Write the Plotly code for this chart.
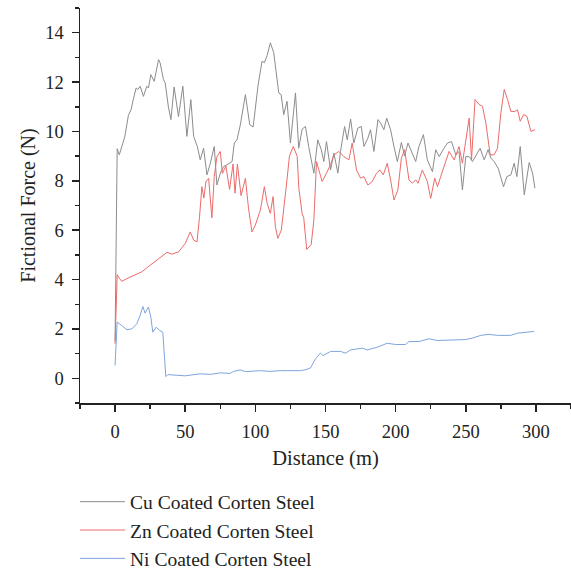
import plotly.graph_objects as go

# ---- data ----
series_names = ["Cu Coated Corten Steel", "Zn Coated Corten Steel", "Ni Coated Corten Steel"]

cu_x = [0, 1.5, 3, 5, 7, 9.5, 11.5, 13, 15, 16.2, 17.9, 20.2, 22.6, 23.8, 25.5, 27.9, 31, 32.1, 34.5, 35.7,
        38, 39.8, 42.1, 45.2, 48.3, 51.2, 54, 56, 58.6, 60.7, 63.1, 65.5, 67.9, 70.7, 72.6, 75, 77.4, 79.8,
        83.4, 85, 86.9, 89.3, 92.9, 96, 98.4, 102, 104.8, 106.4, 108.4, 110.7, 113.1, 116.7, 118.4, 120.2,
        122.6, 125, 128.6, 130.9, 133.4, 135.7, 138, 141.7, 144.5, 147, 148.8, 150.7, 153.6, 156, 158.8,
        160.7, 163.6, 165.5, 167.9, 170.2, 173.1, 175.5, 177.4, 180.2, 182.1, 184.5, 187.4, 189.3, 191.6,
        193.6, 196.4, 198.8, 201.2, 204.1, 206.4, 208.8, 211.2, 214.3, 216.6, 219.8, 222.6, 226.2, 228.6,
        231, 234.5, 236.9, 239.8, 242.9, 245.2, 247.6, 250, 252.4, 254.8, 258.3, 260.2, 263.1, 265.9, 267.9,
        270.2, 273.1, 276.9, 279.3, 282.1, 284.5, 286.4, 288.8, 291.7, 295.2, 297.6, 299.3]
cu_y = [1.5, 9.3, 9.05, 9.4, 9.8, 10.65, 10.9, 11.3, 11.76, 11.7, 11.83, 11.42, 11.83, 11.76, 12.3, 12.03, 12.91, 12.78, 12.1, 11.97,
        11.0, 10.48, 11.8, 10.6, 11.83, 9.8, 11.29, 9.8, 9.4, 8.85, 9.32, 8.24, 8.71, 9.39, 7.83, 8.31, 8.58, 8.65,
        8.78, 9.53, 9.66, 10.27, 11.49, 10.27, 10.18, 11.9, 12.85, 12.78, 13.08, 13.59, 13.19, 11.56, 11.49, 10.68,
        11.22, 9.53, 11.56, 9.32, 10.1, 10.2, 9.39, 8.31, 9.66, 9.26, 8.78, 9.59, 8.44, 9.12, 8.31,
        9.19, 10.2, 9.66, 10.5, 9.53, 10.14, 10.2, 9.39, 9.73, 10.07, 9.19, 10.48, 10.34, 10.07,
        10.54, 10.07, 9.39, 8.78, 9.55, 9.01, 9.53, 9.19, 8.78, 9.39, 9.87, 8.85, 8.37, 9.26,
        8.98, 9.32, 9.53, 9.59, 9.05, 9.19, 7.63, 8.98, 8.98, 8.78, 9.12, 9.32, 8.85, 9.26, 8.92,
        8.78, 8.51, 7.76, 8.17, 8.24, 8.71, 8.17, 9.39, 7.43, 8.74, 8.31, 7.7]

zn_x = [0, 0.8, 1.5, 2.5, 4.7, 10.7, 19, 25, 31, 37, 40.5, 45.2, 50, 53.6, 56, 58.4, 60.2, 61.9, 63.3, 64.8,
        66.7, 69, 70.7, 72.6, 75, 76.5, 79, 81.6, 84.1, 85.5, 87.2, 89.8, 92.9, 95.2, 97.6, 100, 103.6,
        106.4, 108.4, 110.7, 112.6, 114.3, 116, 118.5, 122, 124.3, 127, 129.8, 131, 133.3, 134.5, 136.6,
        139.8, 141.7, 143.6, 145.2, 147.6, 150.7, 153.6, 156, 159.5, 163.1, 166.7, 169, 172.1, 175, 177.4,
        180.2, 183.3, 186.4, 188.8, 191.2, 194, 196.4, 198.8, 201.6, 204.1, 206.4, 209.5, 211.9, 214.3,
        216, 219, 222.6, 225, 227.9, 229.8, 232.1, 235, 238.1, 241.7, 245.2, 247.6, 250, 252.4, 254.1,
        256.6, 259.5, 261.9, 264.3, 267.4, 270.2, 272.6, 275, 277.4, 279.8, 282.1, 285, 286.9, 288.8,
        291.2, 293.6, 296.4, 299.3]
zn_y = [1.4, 3.0, 4.2, 4.1, 3.93, 4.1, 4.31, 4.58, 4.85, 5.1, 5.03, 5.12, 5.46, 5.93, 5.6, 5.53, 6.54, 7.76, 7.3, 7.97,
        8.1, 6.5, 8.17, 8.98, 9.19, 8.3, 8.6, 7.65, 8.68, 7.5, 8.68, 7.4, 8.1, 6.85, 5.93, 6.21, 6.82,
        7.76, 7.09, 6.68, 7.36, 6.14, 5.67, 6.0, 7.76, 9.0, 9.39, 9.0, 7.7, 6.68, 6.5, 5.22,
        5.42, 6.41, 8.78, 8.44, 7.97, 8.31, 8.65, 9.05, 9.19, 8.98, 8.85, 9.53, 8.44, 8.11, 8.17,
        7.83, 7.97, 8.31, 8.44, 8.24, 8.71, 8.04, 7.22, 7.63, 8.92, 9.26, 8.04, 7.9, 8.04,
        7.9, 8.44, 7.97, 7.29, 8.11, 7.76, 8.17, 8.65, 9.19, 8.85, 9.39, 8.71, 9.66, 10.54, 8.85,
        11.29, 11.09, 11.02, 10.34, 9.05, 9.05, 9.32, 10.75, 11.7, 11.29, 10.81, 10.81, 10.88, 10.41,
        10.68, 10.61, 10.0, 10.07]

ni_x = [0, 1.5, 4.7, 8.4, 11.9, 15.5, 17.9, 19.8, 21.4, 23.8, 25.5, 26.9, 29.3, 31.7, 34, 36.2, 37.6, 44, 50,
        55, 60.7, 67.9, 75, 82, 84.5, 89.3, 93, 103.6, 110, 118, 125, 132, 136, 139.3, 142.9, 146.4, 148.2,
        153.6, 160.7, 164.3, 167.9, 176.2, 179.8, 186.9, 194, 200, 207.1, 209.5, 216.6, 223.8, 229.8, 236.9,
        244, 250, 254.8, 260.7, 266.6, 272.6, 282.1, 286.9, 294, 298.8]
ni_y = [0.52, 2.28, 2.14, 1.97, 2.0, 2.21, 2.55, 2.91, 2.64, 2.89, 2.48, 1.87, 2.07, 1.94, 1.87, 0.07, 0.15, 0.12, 0.1,
        0.14, 0.18, 0.16, 0.22, 0.2, 0.28, 0.34, 0.27, 0.31, 0.28, 0.31, 0.3, 0.31, 0.35, 0.42, 0.79, 1.02, 0.92,
        1.09, 1.09, 1.02, 1.15, 1.22, 1.15, 1.26, 1.42, 1.37, 1.37, 1.49, 1.49, 1.6, 1.53, 1.56,
        1.56, 1.57, 1.63, 1.74, 1.78, 1.74, 1.74, 1.83, 1.87, 1.9]

x_tickvals = [0, 50, 100, 150, 200, 250, 300]
y_tickvals = [0, 2, 4, 6, 8, 10, 12, 14]

colors = ["#8c8c8c", "#ec6b6b", "#7fa5dc"]
FONT = "Liberation Serif"

fig = go.Figure()
for name, xs, ys, c in zip(series_names, [cu_x, zn_x, ni_x], [cu_y, zn_y, ni_y], colors):
    fig.add_trace(go.Scatter(x=xs, y=ys, mode="lines", name=name,
                             line=dict(color=c, width=1)))

axis_common = dict(
    showgrid=False, zeroline=False, showline=True, linecolor="#222", linewidth=1.5,
    ticks="outside", tickcolor="#222", tickwidth=1.5, ticklen=7,
    tickfont=dict(family=FONT, size=18.5, color="#222"),
)

fig.update_layout(
    width=571, height=569,
    margin=dict(l=80, r=0, t=8, b=166, autoexpand=False),
    paper_bgcolor="white", plot_bgcolor="white",
    font=dict(family=FONT, color="#222"),
    xaxis=dict(range=[-25, 325], tickvals=x_tickvals,
               minor=dict(dtick=25, tick0=0, ticks="outside", ticklen=4, tickcolor="#222", tickwidth=1.5),
               title=dict(text="Distance (m)", font=dict(family=FONT, size=20.5, color="#222"), standoff=10),
               ticklabelstandoff=4,
               **axis_common),
    yaxis=dict(range=[-1, 15], tickvals=y_tickvals,
               minor=dict(dtick=1, tick0=0, ticks="outside", ticklen=4, tickcolor="#222", tickwidth=1.5),
               title=dict(text="Fictional Force (N)", font=dict(family=FONT, size=20, color="#222"), standoff=4),
               ticklabelstandoff=4,
               **axis_common),
    showlegend=True,
    legend=dict(x=-5/491, xanchor="left", y=-(482.5-403)/395, yanchor="top",
                orientation="v", itemwidth=45, tracegroupgap=0,
                font=dict(family=FONT, size=19.5, color="#222"),
                bgcolor="rgba(0,0,0,0)"),
)

fig.write_html("out.html", config={"staticPlot": True})
